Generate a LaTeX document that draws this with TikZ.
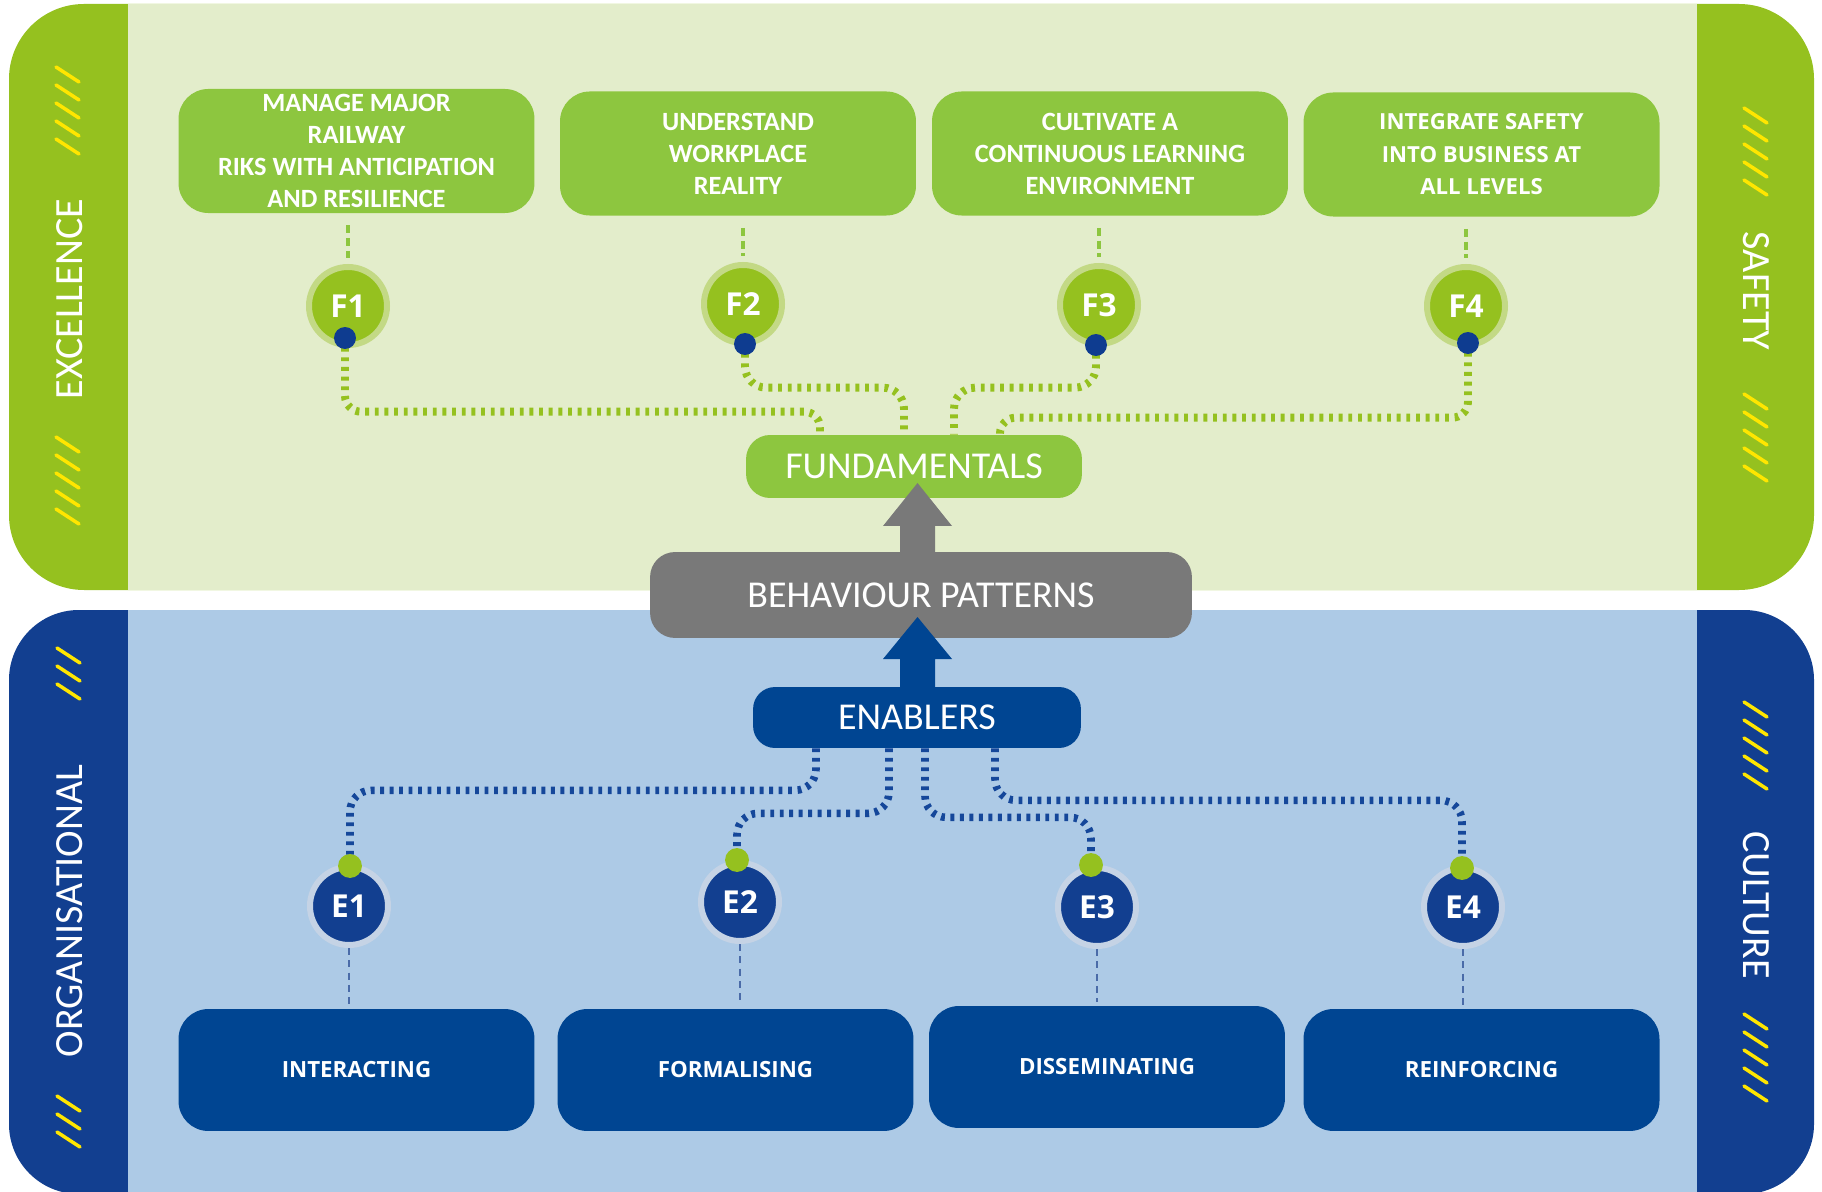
\documentclass[tikz,border=0pt]{standalone}
\usepackage{fontspec}
\newfontfamily\carlito{Carlito}
\newfontfamily\osans{Open Sans}
\usetikzlibrary{calc}
\pgfdeclarelayer{back}\pgfdeclarelayer{conn}\pgfdeclarelayer{front}
\pgfsetlayers{back,conn,main,front}
\definecolor{topbg}{HTML}{E3EDCB}
\definecolor{greenbar}{HTML}{95C11F}
\definecolor{greenbox}{HTML}{8DC63F}
\definecolor{fring}{HTML}{C3D985}
\definecolor{bluebg}{HTML}{ADCAE6}
\definecolor{bluebar}{HTML}{123F90}
\definecolor{bluebox}{HTML}{004592}
\definecolor{ering}{HTML}{C5D3E5}
\definecolor{grayarr}{HTML}{797979}
\definecolor{hatchy}{HTML}{FFE600}
\definecolor{bluedot}{HTML}{0E3C90}
\definecolor{econncol}{HTML}{15479A}
\definecolor{edashcol}{HTML}{4A6BA8}
\newcommand\myhatch[3]{\foreach \k in {1,...,#3}{\draw[hatch] (#1,{#2+(\k-1)*18}) -- ++(23,15);}}
\begin{document}
\begin{tikzpicture}[x=0.02cm,y=-0.02cm,
 hatch/.style={draw=hatchy, line width=2pt, line cap=round},
 sidelab/.style={text=white, font=\carlito\fontsize{22.8}{27}\selectfont, inner sep=0pt},
 gbox/.style={fill=greenbox, rounded corners=17pt, minimum width=202.6pt, minimum height=70.6pt, text=white, align=center, inner sep=0pt},
 gtext/.style={font=\carlito\bfseries\fontsize{15}{18.2}\selectfont},
 otext/.style={font=\osans\bfseries\fontsize{12.6}{18.5}\selectfont},
 bbox/.style={fill=bluebox, rounded corners=17pt, minimum width=202.6pt, minimum height=69.4pt, text=white, align=center, inner sep=0pt, font=\osans\bfseries\fontsize{12.7}{15}\selectfont},
 clab/.style={text=white, font=\carlito\fontsize{21.6}{26}\selectfont, inner sep=0pt},
 fcirc/.style={circle, fill=greenbar, draw=fring, line width=3.41pt, minimum size=44.4pt, inner sep=0pt, text=white, font=\osans\bfseries\fontsize{18}{20}\selectfont},
 ecirc/.style={circle, fill=bluebar, draw=ering, line width=3.41pt, minimum size=44.4pt, inner sep=0pt, text=white, font=\osans\bfseries\fontsize{18}{20}\selectfont},
 bdot/.style={circle, fill=bluedot, minimum size=12.5pt, inner sep=0pt},
 gdot/.style={circle, fill=greenbar, minimum size=13.6pt, inner sep=0pt},
 fconn/.style={draw=greenbar, line width=4.5pt, dash pattern=on 2.2pt off 3.3pt},
 econn/.style={draw=econncol, line width=4.3pt, dash pattern=on 2.2pt off 3.2pt},
 fdash/.style={draw=greenbox, line width=1.9pt, dash pattern=on 4.5pt off 2.8pt},
 edash/.style={draw=edashcol, line width=1.2pt, dash pattern=on 4pt off 3pt}
]
\useasboundingbox (0,0) rectangle (1822,1192);
\begin{pgfonlayer}{back}
 \fill[white] (0,0) rectangle (1822,1192);
 \fill[greenbar,rounded corners=42.7pt] (9,4) rectangle (1814,590);
 \fill[topbg] (128,4) rectangle (1697,590);
 \fill[bluebar,rounded corners=39.8pt] (9,610) rectangle (1814,1194);
 \fill[bluebg] (128,610) rectangle (1697,1194);
 \myhatch{56}{67}{5}
 \myhatch{56}{437}{5}
 \myhatch{1744}{108}{5}
 \myhatch{1744}{394}{5}
 \myhatch{57}{648}{3}
 \myhatch{57}{1096}{3}
 \myhatch{1744}{702}{5}
 \myhatch{1744}{1014}{5}
\end{pgfonlayer}

% side labels
\node[sidelab, rotate=90] (lex) at (70,299) {EXCELLENCE};
\node[sidelab, rotate=-90] (lsa) at (1756,291) {SAFETY};
\node[sidelab, rotate=90] (lor) at (70,911) {ORGANISATIONAL};
\node[sidelab, rotate=-90] (lcu) at (1756,905) {CULTURE};

% top boxes
\node[gbox, gtext] (B1) at (356.5,151) {MANAGE MAJOR\\RAILWAY\\RIKS WITH ANTICIPATION\\AND RESILIENCE};
\node[gbox, gtext] (B2) at (738,153.5) {UNDERSTAND\\WORKPLACE\\REALITY};
\node[gbox, gtext] (B3) at (1110,153.5) {CULTIVATE A\\CONTINUOUS LEARNING\\ENVIRONMENT};
\node[gbox, otext] (B4) at (1481.5,154.5) {INTEGRATE SAFETY\\INTO BUSINESS AT\\ALL LEVELS};

% F circles
\node[fcirc] (F1) at (348,306) {F1};
\node[fcirc] (F2) at (743,304) {F2};
\node[fcirc] (F3) at (1099,305) {F3};
\node[fcirc] (F4) at (1466,306) {F4};
\node[bdot] (d1) at (345,338) {};
\node[bdot] (d2) at (745,344) {};
\node[bdot] (d3) at (1096,345) {};
\node[bdot] (d4) at (1468,343) {};

% centre boxes
\node[clab, fill=greenbox, rounded corners=13.7pt, minimum width=191.2pt, minimum height=35.85pt] (fund) at (914,466.5) {FUNDAMENTALS};
\node[clab, fill=grayarr, rounded corners=14.2pt, minimum width=308.4pt, minimum height=48.9pt] (beh) at (921,595) {BEHAVIOUR PATTERNS};
\node[clab, fill=bluebox, rounded corners=12.5pt, minimum width=186.6pt, minimum height=34.7pt] (en) at (917,717.5) {ENABLERS};

% E circles
\node[ecirc] (E1) at (349,906) {E1};
\node[ecirc] (E2) at (740,902) {E2};
\node[ecirc] (E3) at (1097,907) {E3};
\node[ecirc] (E4) at (1463,907) {E4};
\node[gdot] (e1d) at (350,866) {};
\node[gdot] (e2d) at (737,860) {};
\node[gdot] (e3d) at (1091,865) {};
\node[gdot] (e4d) at (1462,868) {};

% bottom boxes
\node[bbox] (C1) at (356.5,1070) {INTERACTING};
\node[bbox] (C2) at (735.5,1070) {FORMALISING};
\node[bbox] (C3) at (1107,1067) {DISSEMINATING};
\node[bbox] (C4) at (1481.5,1070) {REINFORCING};

% connector end points
\coordinate (fin1) at ($(fund.north)+(-94,0)$);
\coordinate (fin2) at ($(fund.north)+(-10,0)$);
\coordinate (fin3) at ($(fund.north)+(40,0)$);
\coordinate (fin4) at ($(fund.north)+(86,0)$);
\coordinate (ein1) at ($(en.south)+(-101,0)$);
\coordinate (ein2) at ($(en.south)+(-28,0)$);
\coordinate (ein3) at ($(en.south)+(8,0)$);
\coordinate (ein4) at ($(en.south)+(78,0)$);
\coordinate (gtip) at (917.5,483);
\coordinate (btip) at (917.5,617);

\begin{pgfonlayer}{conn}
 \draw[fconn, rounded corners=9pt] (d1.center) |- ($(fin1)+(0,-23)$) -- (fin1);
 \draw[fconn, rounded corners=12pt] (d2.center) |- ($(fin2)+(0,-47)$) -- (fin2);
 \draw[fconn, rounded corners=12pt] (d3.center) |- ($(fin3)+(0,-47)$) -- (fin3);
 \draw[fconn, rounded corners=9pt] (d4.center) |- ($(fin4)+(0,-17)$) -- (fin4);
 \draw[econn, rounded corners=12pt] (ein1) -- ++(0,42) -| (e1d.center);
 \draw[econn, rounded corners=12pt] (ein2) -- ++(0,65) -| (e2d.center);
 \draw[econn, rounded corners=12pt] (ein3) -- ++(0,69) -| (e3d.center);
 \draw[econn, rounded corners=12pt] (ein4) -- ++(0,52) -| (e4d.center);
 \draw[fdash, shorten <=6.8pt, shorten >=3.4pt] (B1.south -| F1.north) -- (F1.north);
 \draw[fdash, shorten <=6.8pt, shorten >=3.4pt] (B2.south -| F2.north) -- (F2.north);
 \draw[fdash, shorten <=6.8pt, shorten >=3.4pt] (B3.south -| F3.north) -- (F3.north);
 \draw[fdash, shorten <=6.8pt, shorten >=3.4pt] (B4.south -| F4.north) -- (F4.north);
 \draw[edash, shorten >=2.3pt] (E1.south) -- (E1.south |- C1.north);
 \draw[edash, shorten >=2.3pt] (E2.south) -- (E2.south |- C2.north);
 \draw[edash, shorten >=2.3pt] (E3.south) -- (E3.south |- C3.north);
 \draw[edash, shorten >=2.3pt] (E4.south) -- (E4.south |- C4.north);
\end{pgfonlayer}

\begin{pgfonlayer}{front}
 \fill[grayarr] (gtip) -- ++(34.5,43) -- ++(-17,0) -- ($(gtip |- beh.north)+(17.5,1)$) -- ($(gtip |- beh.north)+(-17.5,1)$) -- ($(gtip)+(-17.5,43)$) -- ++(-17,0) -- cycle;
 \fill[bluebox] (btip) -- ++(34.5,42) -- ++(-17,0) -- ($(btip |- en.north)+(17.5,1)$) -- ($(btip |- en.north)+(-17.5,1)$) -- ($(btip)+(-17.5,42)$) -- ++(-17,0) -- cycle;
\end{pgfonlayer}
\end{tikzpicture}
\end{document}
